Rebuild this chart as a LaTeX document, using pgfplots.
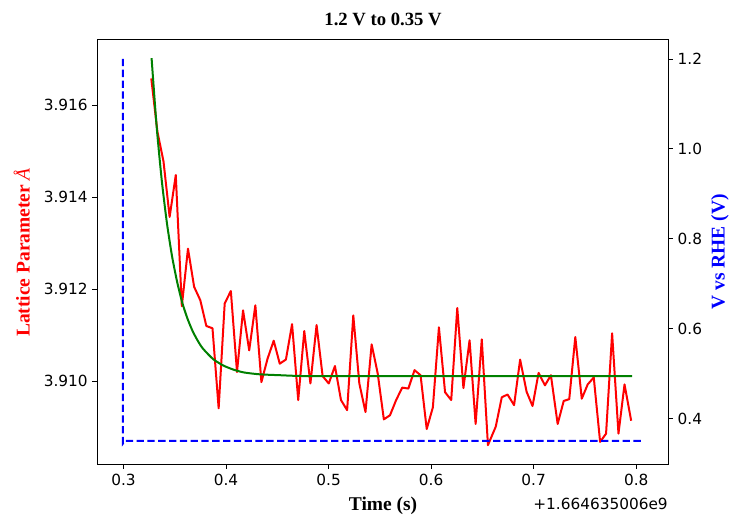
\documentclass[border=0pt]{standalone}
\usepackage{fontspec}
\setmainfont{DejaVu Sans}
\newfontfamily\tnr{Liberation Serif}
\usepackage{pgfplots}
\pgfplotsset{compat=1.18}
\definecolor{mplgreen}{rgb}{0,0.5,0}
\begin{document}
\begin{tikzpicture}
\useasboundingbox (-73pt,-38.25pt) rectangle (475.25pt,348pt);
\pgfplotsset{
  common/.style={
    at={(0,0)}, anchor=south west, scale only axis,
    width=428pt, height=318.5pt,
    xmin=0.2745, xmax=0.831,
    tick align=outside, major tick length=3.7pt,
    tick style={black, line width=0.6pt},
    axis line style={line width=0.75pt},
    tick label style={font=\fontsize{11.5}{13}\selectfont},
    /pgf/number format/assume math mode=true,
    scaled ticks=false,
  }
}
\begin{axis}[common,
  ymin=3.9082, ymax=3.91743,
  xtick={0.3,0.4,0.5,0.6,0.7,0.8},
  xticklabels={0.3,0.4,0.5,0.6,0.7,0.8},
  ytick={3.910,3.912,3.914,3.916},
  yticklabels={3.910,3.912,3.914,3.916},
  xtick pos=bottom, ytick pos=left,
]
\addplot[red, line width=1.5pt, line join=round] coordinates {
(0.3271,3.91658) (0.3331,3.91542) (0.3390,3.91478) (0.3450,3.91357) (0.3510,3.91448)
(0.3569,3.91163) (0.3629,3.91288) (0.3689,3.91205) (0.3749,3.91176) (0.3808,3.91120)
(0.3868,3.91115) (0.3928,3.90941) (0.3987,3.91169) (0.4047,3.91196) (0.4107,3.91020)
(0.4166,3.91154) (0.4226,3.91067) (0.4286,3.91165) (0.4345,3.90998) (0.4405,3.91049)
(0.4465,3.91088) (0.4524,3.91038) (0.4584,3.91047) (0.4644,3.91124) (0.4704,3.90959)
(0.4763,3.91109) (0.4823,3.90995) (0.4883,3.91122) (0.4942,3.91011) (0.5002,3.90995)
(0.5062,3.91033) (0.5121,3.90959) (0.5181,3.90937) (0.5241,3.91143) (0.5300,3.90995)
(0.5360,3.90933) (0.5420,3.91080) (0.5479,3.91017) (0.5539,3.90917) (0.5599,3.90926)
(0.5659,3.90959) (0.5718,3.90986) (0.5778,3.90984) (0.5838,3.91024) (0.5897,3.91013)
(0.5957,3.90896) (0.6017,3.90943) (0.6076,3.91117) (0.6136,3.90976) (0.6196,3.90959)
(0.6255,3.91159) (0.6315,3.90985) (0.6375,3.91089) (0.6434,3.90907) (0.6494,3.91091)
(0.6554,3.90861) (0.6630,3.90901) (0.6689,3.90965) (0.6745,3.90971) (0.6809,3.90948)
(0.6868,3.91047) (0.6931,3.90977) (0.6989,3.90946) (0.7048,3.91018) (0.7110,3.90991)
(0.7168,3.91013) (0.7234,3.90907) (0.7293,3.90957) (0.7347,3.90961) (0.7406,3.91096)
(0.7469,3.90962) (0.7527,3.90993) (0.7586,3.91008) (0.7648,3.90868) (0.7706,3.90886)
(0.7765,3.91104) (0.7827,3.90886) (0.7886,3.90993) (0.7951,3.90914)
};
\addplot[mplgreen, line width=1.5pt, smooth, tension=0.4] coordinates {
(0.3274,3.91702) (0.3324,3.91552) (0.3374,3.91435) (0.3424,3.91343) (0.3474,3.91271)
(0.3524,3.91215) (0.3574,3.91170) (0.3624,3.91136) (0.3674,3.91109) (0.3724,3.91088)
(0.3774,3.91071) (0.3874,3.91048) (0.3974,3.91034) (0.4074,3.91025) (0.4174,3.91019)
(0.4324,3.91015) (0.4524,3.91013) (0.4824,3.91011) (0.6000,3.91011) (0.7961,3.91011)
};
\end{axis}
\begin{axis}[common,
  ymin=0.2995, ymax=1.2435,
  axis x line=none, axis y line*=right,
  ytick={0.4,0.6,0.8,1.0,1.2},
  yticklabels={0.4,0.6,0.8,1.0,1.2},
]
\addplot[blue, line width=1.5pt, dash pattern=on 5.5pt off 2.6pt] coordinates {
(0.2995,1.2) (0.2995,0.345) (0.3015,0.351) (0.8078,0.351)
};
\end{axis}
\node[font=\tnr\bfseries\fontsize{14}{16}\selectfont] at (214.3pt,333.75pt) {1.2 V to 0.35 V};
\node[font=\tnr\bfseries\fontsize{14.6}{16}\selectfont] at (214.3pt,-31pt) {Time (s)};
\node[font=\fontsize{11.5}{13}\selectfont, anchor=east, inner sep=0pt] at (428pt,-30pt) {+1.664635006e9};
\node[font=\tnr\bfseries\fontsize{14.6}{16}\selectfont, text=red, rotate=90] at (-56.7pt,158.6pt) {Lattice Parameter {\mdseries\itshape Å}};
\node[font=\tnr\bfseries\fontsize{14.6}{16}\selectfont, text=blue, rotate=90] at (467pt,159pt) {V vs RHE (V)};
\end{tikzpicture}
\end{document}
